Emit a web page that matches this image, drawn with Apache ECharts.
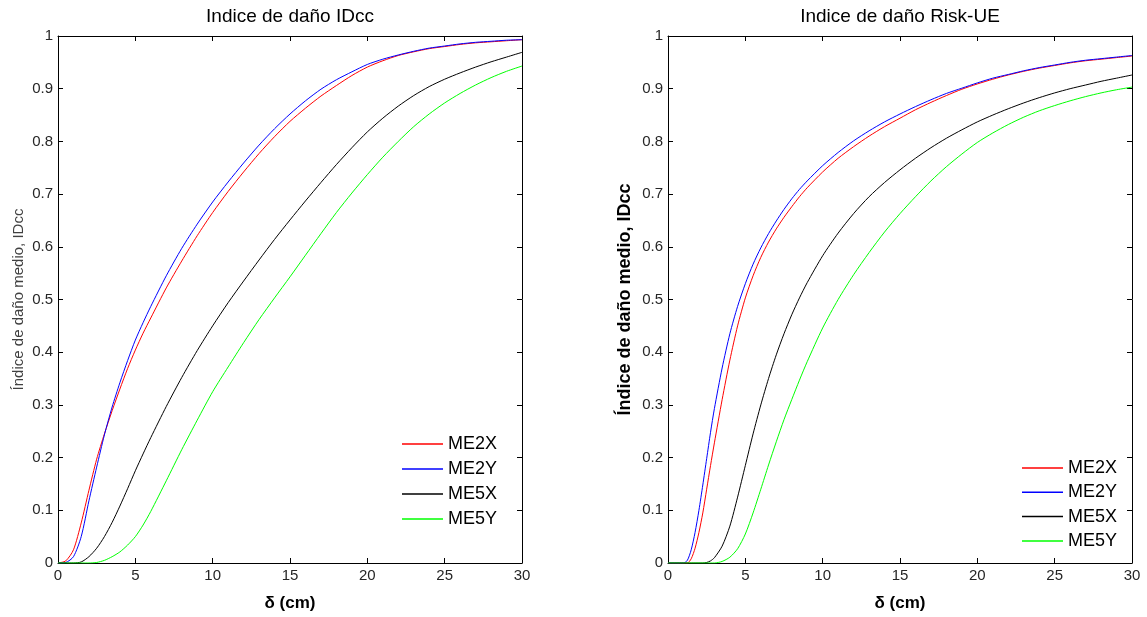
<!DOCTYPE html>
<html>
<head>
<meta charset="utf-8">
<title>Indice de daño</title>
<script src="https://cdn.jsdelivr.net/npm/echarts@6/dist/echarts.min.js"></script>
<style>
  html, body { margin: 0; padding: 0; background: #fff; }
  #chart { width: 1147px; height: 617px; }
</style>
</head>
<body>
<div id="chart"></div>
<script>
// Displacement δ (cm) sampled for the IDcc damage index curves
const deltaIDcc = [0, 0.5, 1, 1.5, 2, 2.5, 3, 3.5, 4, 4.5, 5, 5.5, 6, 7, 8, 9, 10, 11, 12, 13, 14, 15, 16, 17, 18, 19, 20, 21, 22, 23, 24, 25, 26, 27, 28, 29, 30];
const idccME2X = [0, 0.004, 0.025, 0.076, 0.138, 0.197, 0.245, 0.289, 0.33, 0.369, 0.404, 0.436, 0.465, 0.522, 0.573, 0.621, 0.665, 0.705, 0.742, 0.777, 0.809, 0.838, 0.863, 0.886, 0.906, 0.925, 0.941, 0.953, 0.963, 0.970, 0.976, 0.980, 0.984, 0.987, 0.989, 0.991, 0.993];
const idccME2Y = [0, 0.001, 0.012, 0.05, 0.118, 0.182, 0.243, 0.296, 0.342, 0.384, 0.423, 0.456, 0.487, 0.545, 0.597, 0.643, 0.685, 0.723, 0.759, 0.793, 0.824, 0.852, 0.877, 0.899, 0.917, 0.932, 0.946, 0.956, 0.964, 0.971, 0.977, 0.981, 0.985, 0.988, 0.99, 0.992, 0.993];
const idccME5X = [0, 0, 0, 0.002, 0.012, 0.028, 0.05, 0.077, 0.108, 0.141, 0.175, 0.207, 0.238, 0.297, 0.352, 0.403, 0.45, 0.494, 0.535, 0.575, 0.614, 0.651, 0.687, 0.722, 0.756, 0.788, 0.818, 0.844, 0.867, 0.887, 0.904, 0.918, 0.93, 0.941, 0.951, 0.96, 0.969];
const idccME5Y = [0, 0, 0, 0, 0, 0.001, 0.005, 0.012, 0.021, 0.034, 0.05, 0.072, 0.098, 0.156, 0.215, 0.271, 0.325, 0.372, 0.418, 0.462, 0.503, 0.543, 0.584, 0.625, 0.665, 0.702, 0.737, 0.77, 0.8, 0.828, 0.852, 0.873, 0.891, 0.907, 0.921, 0.933, 0.943];

// Displacement δ (cm) sampled for the Risk-UE damage index curves
const deltaRiskUE = [0, 1, 1.25, 1.5, 1.75, 2, 2.25, 2.5, 2.75, 3, 3.5, 4, 4.5, 5, 5.5, 6, 6.5, 7, 7.5, 8, 8.5, 9, 10, 11, 12, 13, 14, 15, 16, 17, 18, 19, 20, 21, 22, 23, 24, 25, 26, 27, 28, 29, 30];
const riskME2X = [0, 0, 0, 0.008, 0.028, 0.058, 0.095, 0.14, 0.185, 0.228, 0.31, 0.385, 0.45, 0.503, 0.545, 0.58, 0.609, 0.634, 0.656, 0.676, 0.695, 0.712, 0.742, 0.768, 0.79, 0.81, 0.828, 0.844, 0.86, 0.874, 0.887, 0.899, 0.909, 0.918, 0.926, 0.933, 0.939, 0.944, 0.949, 0.953, 0.956, 0.959, 0.962];
const riskME2Y = [0, 0, 0.005, 0.025, 0.058, 0.1, 0.148, 0.198, 0.248, 0.293, 0.37, 0.435, 0.487, 0.53, 0.567, 0.598, 0.625, 0.649, 0.671, 0.691, 0.709, 0.725, 0.754, 0.779, 0.801, 0.82, 0.837, 0.852, 0.866, 0.879, 0.891, 0.901, 0.911, 0.92, 0.927, 0.934, 0.94, 0.945, 0.95, 0.954, 0.957, 0.96, 0.963];
const riskME5X = [0, 0, 0, 0, 0, 0, 0, 0.001, 0.004, 0.01, 0.032, 0.07, 0.125, 0.185, 0.245, 0.3, 0.35, 0.395, 0.435, 0.471, 0.503, 0.532, 0.583, 0.626, 0.663, 0.695, 0.722, 0.746, 0.768, 0.788, 0.806, 0.822, 0.837, 0.85, 0.862, 0.873, 0.883, 0.892, 0.9, 0.907, 0.914, 0.92, 0.926];
const riskME5Y = [0, 0, 0, 0, 0, 0, 0, 0, 0, 0, 0.003, 0.011, 0.027, 0.055, 0.095, 0.14, 0.186, 0.23, 0.272, 0.31, 0.347, 0.382, 0.446, 0.5, 0.547, 0.589, 0.628, 0.663, 0.695, 0.725, 0.752, 0.776, 0.798, 0.816, 0.832, 0.846, 0.858, 0.868, 0.877, 0.885, 0.892, 0.898, 0.903];

const seriesNames = ['ME2X', 'ME2Y', 'ME5X', 'ME5Y'];
const seriesColors = ['#ff0000', '#0000ff', '#000000', '#00ff00'];
const panelTitles = ['Indice de daño IDcc', 'Indice de daño Risk-UE'];
const yAxisTitle = 'Índice de daño medio, IDcc';
const xAxisTitle = 'δ (cm)';

const FONT = '"Liberation Sans", Arial, Helvetica, sans-serif';

function pairs(xs, ys) {
  return xs.map((x, i) => [x, ys[i]]);
}

const panels = [
  { xs: deltaIDcc, ys: [idccME2X, idccME2Y, idccME5X, idccME5Y] },
  { xs: deltaRiskUE, ys: [riskME2X, riskME2Y, riskME5X, riskME5Y] }
];

const grids = [
  { left: 58, top: 36, width: 464, height: 527 },
  { left: 668, top: 36, width: 464, height: 527 }
];

const tickLabel = { fontFamily: FONT, fontSize: 15, color: '#262626' };
const blackLine = { lineStyle: { color: '#000', width: 1 } };

const xAxes = [];
const yAxes = [];
grids.forEach((g, i) => {
  // bottom axis with labels
  xAxes.push({
    type: 'value', gridIndex: i, min: 0, max: 30, interval: 5, position: 'bottom',
    axisLine: { show: true, onZero: false, ...blackLine },
    axisTick: { show: true, inside: true, length: 5, ...blackLine },
    splitLine: { show: false },
    axisLabel: { ...tickLabel, margin: 5 },
    name: xAxisTitle, nameLocation: 'middle', nameGap: 32,
    nameTextStyle: { fontFamily: FONT, fontSize: 17, fontWeight: 'bold', color: '#000' }
  });
  // top edge of the box
  xAxes.push({
    type: 'value', gridIndex: i, min: 0, max: 30, interval: 5, position: 'top',
    axisLine: { show: true, onZero: false, ...blackLine },
    axisTick: { show: true, inside: true, length: 5, ...blackLine },
    splitLine: { show: false },
    axisLabel: { show: false }
  });
  // left axis with labels
  yAxes.push({
    type: 'value', gridIndex: i, min: 0, max: 1, interval: 0.1, position: 'left',
    axisLine: { show: true, onZero: false, ...blackLine },
    axisTick: { show: true, inside: true, length: 5, ...blackLine },
    splitLine: { show: false },
    axisLabel: { ...tickLabel, margin: 5 },
    name: yAxisTitle, nameLocation: 'middle',
    nameGap: i === 0 ? 32 : 34,
    nameTextStyle: i === 0
      ? { fontFamily: FONT, fontSize: 15, color: '#404040' }
      : { fontFamily: FONT, fontSize: 18, fontWeight: 'bold', color: '#000' }
  });
  // right edge of the box
  yAxes.push({
    type: 'value', gridIndex: i, min: 0, max: 1, interval: 0.1, position: 'right',
    axisLine: { show: true, onZero: false, ...blackLine },
    axisTick: { show: true, inside: true, length: 5, ...blackLine },
    splitLine: { show: false },
    axisLabel: { show: false }
  });
});

const series = [];
panels.forEach((p, i) => {
  p.ys.forEach((ys, k) => {
    series.push({
      type: 'line',
      name: seriesNames[k],
      xAxisIndex: i * 2,
      yAxisIndex: i * 2,
      data: pairs(p.xs, ys),
      showSymbol: false,
      smooth: 0.25,
      lineStyle: { color: seriesColors[k], width: 1 },
      itemStyle: { color: seriesColors[k] },
      emphasis: { disabled: true }
    });
  });
});

const legendBase = {
  orient: 'vertical', padding: 0, icon: 'rect', itemWidth: 41, itemHeight: 1.5,
  selectedMode: false, data: seriesNames,
  textStyle: { fontFamily: FONT, fontSize: 18, color: '#000', lineHeight: 20 }
};

const chart = echarts.init(document.getElementById('chart'), null, { renderer: 'canvas' });
chart.setOption({
  backgroundColor: '#ffffff',
  animation: false,
  title: panelTitles.map((t, i) => ({
    text: t,
    left: grids[i].left + grids[i].width / 2,
    textAlign: 'center',
    top: 7,
    padding: 0,
    textStyle: { fontFamily: FONT, fontSize: 19, fontWeight: 'normal', color: '#000' }
  })),
  legend: [
    { ...legendBase, left: 402, top: 434, itemGap: 5 },
    { ...legendBase, left: 1022, top: 458, itemGap: 4.3 }
  ],
  grid: grids,
  xAxis: xAxes,
  yAxis: yAxes,
  series: series
});
</script>
</body>
</html>
